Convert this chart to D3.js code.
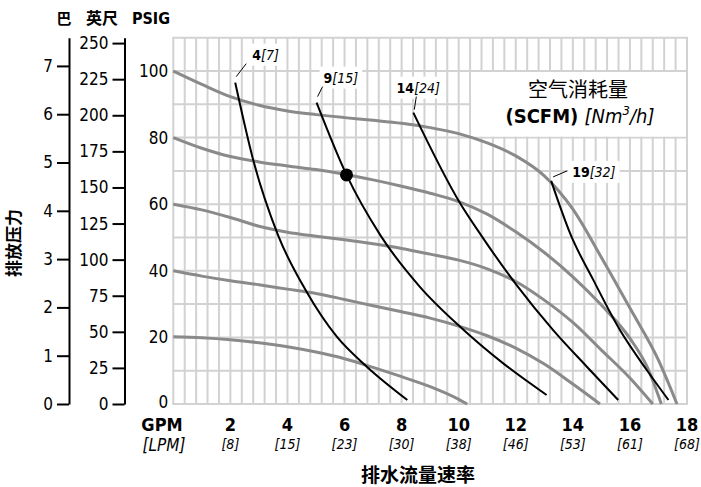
<!DOCTYPE html>
<html>
<head>
<meta charset="utf-8">
<script src="https://cdn.jsdelivr.net/npm/d3@7"></script>
<style>
  body { margin: 0; background: #fff; }
  svg { display: block; }
  text { font-family: "Liberation Sans Narrow", "DejaVu Sans Condensed", "Roboto", sans-serif; fill: #000; }
  .cjk { font-family: "Noto Sans CJK SC", sans-serif; }
</style>
</head>
<body>
<script>
// data

// gray curves: water flow (gpm) vs discharge pressure (psig) at given air inlet pressure
var airPressures = [100, 80, 60, 40, 20];
var curve100 = [[0,100],[1,96],[2,92.3],[3,89.7],[4,88],[5,86.9],[6,86],[7,85.2],[8,84.3],[9,83],[10,81.2],[11,78.4],[12,74.5],[13,68.5],[14,58.5],[15,44],[16,28.8],[17,13.2],[17.65,0]];
var curve80  = [[0,80],[1,76.8],[2,74.3],[3,72.7],[4,71.5],[5,70.4],[6,69],[7,67.3],[8,65.4],[9,63.3],[10,60.8],[11,57],[12,51.7],[13,45.5],[14,38.2],[15,29.7],[16,19.7],[16.6,11.2],[17.1,0]];
var curve60  = [[0,60],[1,58.3],[2,56],[3,53.4],[4,51.6],[5,50.4],[6,49.3],[7,48.1],[8,46.7],[9,45],[10,43.2],[11,40.6],[12,36.8],[13,31.2],[14,24.5],[15,16.2],[16,7.8],[16.8,0]];
var curve40  = [[0,40],[1,38.4],[2,37],[3,35.8],[4,34.5],[5,33.2],[6,31.4],[7,29.5],[8,27.7],[9,25.8],[10,23.4],[11,20.5],[12,16.8],[13,12],[14,6],[14.95,0]];
var curve20  = [[0,20.2],[1,19.9],[2,19.3],[3,18.4],[4,17.2],[5,15.6],[6,13.6],[7,11],[8,8.2],[9,5.2],[10,1.4],[10.3,0]];
var grayCurves = [curve100, curve80, curve60, curve40, curve20];

// black curves: air consumption (scfm [nm3/h])
var scfm = [4, 9, 14, 19];
var nm3h = [7, 15, 24, 32];
var air4  = [[2.17,96.5],[2.8,73.3],[3.68,50.5],[4.67,33.7],[5.73,20.2],[6.78,11.2],[8.2,1.2]];
var air9  = [[5.02,90.5],[6.07,68.8],[7.27,50.5],[8.64,35.2],[10.05,23.2],[11.56,12.2],[13.08,2.7]];
var air14 = [[8.41,87.5],[10.05,60.3],[10.8,50.5],[12.03,35.7],[13.31,22.2],[14.49,11.2],[15.59,1.2]];
var air19 = [[13.24,67],[13.93,50.7],[14.72,37.2],[15.65,22.2],[16.59,10.2],[17.35,1.2]];
var airCurves = [air4, air9, air14, air19];

// example operating point
var opPoint = [6.07, 68.8];

// tick labels
var gpmTicks = [2, 4, 6, 8, 10, 12, 14, 16, 18];
var lpmTicks = [8, 15, 23, 30, 38, 46, 53, 61, 68];
var psiTicks = [0, 20, 40, 60, 80, 100];
var barTicks = [0, 1, 2, 3, 4, 5, 6, 7];
var ftTicks  = [0, 25, 50, 75, 100, 125, 150, 175, 200, 225, 250];

/////////// SCALES //////////////

var psiMax = 110;
var x = d3.scaleLinear().domain([0, 18]).range([173.3, 687]);
var y = d3.scaleLinear().domain([0, psiMax]).range([404, 37.7]);
// bar and feet of water share the same pixel range
var yBar = d3.scaleLinear().domain([0, psiMax / 14.5038]).range(y.range());
var yFt  = d3.scaleLinear().domain([0, psiMax * 2.3067]).range(y.range());

var svg = d3.select('body')
  .append('svg')
    .attr('width', 701)
    .attr('height', 487);

/////////// GRID //////////////

var grid = svg.append('g')
    .attr('stroke', '#d2d2d2')
    .attr('stroke-width', 2);

grid.selectAll('line.v')
  .data(d3.range(0, 45.5).map(function(i) { return i * 0.4; }))
  .enter().append('line')
    .attr('class', 'v')
    .attr('x1', function(d) { return x(d); })
    .attr('x2', function(d) { return x(d); })
    .attr('y1', y(0))
    .attr('y2', y(psiMax));

grid.selectAll('line.h')
  .data(d3.range(0, 12).map(function(i) { return i * 10; }))
  .enter().append('line')
    .attr('class', 'h')
    .attr('x1', x(0) - 1)
    .attr('x2', x(18) + 1)
    .attr('y1', function(d) { return y(d); })
    .attr('y2', function(d) { return y(d); });

// legend box blanks the grid between 80 and 100 psi
svg.append('rect')
    .attr('x', x(10.4) + 1)
    .attr('y', y(100) + 1)
    .attr('width', x(18) - x(10.4) - 2)
    .attr('height', y(80) - y(100) - 2)
    .attr('fill', '#fff');

var legend = svg.append('g');
legend.append('text')
    .attr('class', 'cjk')
    .attr('x', 578)
    .attr('y', 97)
    .attr('text-anchor', 'middle')
    .style('font-size', '20px')
    .text('空气消耗量');
var lt = legend.append('text')
    .attr('x', 580)
    .attr('y', 123)
    .attr('text-anchor', 'middle')
    .style('font-size', '20px');
lt.append('tspan').style('font-weight', 'bold').text('(SCFM) ');
lt.append('tspan').style('font-style', 'italic').text('[Nm');
lt.append('tspan').style('font-style', 'italic').style('font-size', '13px').attr('dy', -8).text('3');
lt.append('tspan').style('font-style', 'italic').attr('dy', 8).text('/h]');

/////////// CURVES //////////////

var line = d3.line()
    .x(function(d) { return x(d[0]); })
    .y(function(d) { return y(d[1]); })
    .curve(d3.curveMonotoneX);

svg.append('g').selectAll('path')
  .data(grayCurves)
  .enter().append('path')
    .attr('d', line)
    .attr('fill', 'none')
    .attr('stroke', '#8a8a8c')
    .attr('stroke-width', 3);

svg.append('g').selectAll('path')
  .data(airCurves)
  .enter().append('path')
    .attr('d', line)
    .attr('fill', 'none')
    .attr('stroke', '#000')
    .attr('stroke-width', 2);

svg.append('circle')
    .attr('cx', x(opPoint[0]))
    .attr('cy', y(opPoint[1]))
    .attr('r', 6.5)
    .attr('fill', '#000');

// air consumption labels, placed off the top of each black curve
// [leader dx1, dy1, dx2, dy2, text x offset, text baseline offset, anchor]
var labelPos = [
  [1, -6, 11, -19, 17, -23, 'start'],
  [1, -6, 6, -16, 7, -20, 'start'],
  [1, -3, 3, -16, 5, -20, 'middle'],
  [2, -4, 16, -10, 21, -4, 'start']
];

var labels = svg.append('g').selectAll('g')
  .data(scfm)
  .enter().append('g');

labels.each(function(d, i) {
  var g = d3.select(this);
  var p0 = airCurves[i][0];
  var px = x(p0[0]), py = y(p0[1]);
  var lp = labelPos[i];
  var t = g.append('text')
      .attr('x', px + lp[4])
      .attr('y', py + lp[5])
      .attr('text-anchor', lp[6])
      .style('font-size', '14px');
  t.append('tspan').style('font-weight', 'bold').text(d);
  t.append('tspan').style('font-style', 'italic').text('[' + nm3h[i] + ']');
  var bb = t.node().getBBox();
  g.insert('rect', 'text')
      .attr('x', bb.x - 4)
      .attr('y', bb.y - 3)
      .attr('width', bb.width + 8)
      .attr('height', bb.height + 6)
      .attr('fill', '#fff');
  g.append('line')
      .attr('x1', px + lp[0]).attr('y1', py + lp[1])
      .attr('x2', px + lp[2]).attr('y2', py + lp[3])
      .attr('stroke', '#000')
      .attr('stroke-width', 1);
});

/////////// AXES //////////////

// psig labels next to the plot
var psiAxis = svg.append('g')
    .attr('transform', 'translate(' + (x(0) - 5) + ',0)')
    .call(d3.axisLeft(y).tickValues(psiTicks).tickSize(0).tickPadding(0));
psiAxis.select('.domain').remove();
psiAxis.selectAll('text').style('font-size', '17px').attr('font-family', null);
psiAxis.selectAll('.tick').filter(function(d) { return d === 0; })
    .select('text').attr('dy', '0.2em');

// feet of water
var ftAxis = svg.append('g')
    .attr('transform', 'translate(124.5,0)')
    .call(d3.axisLeft(yFt).tickValues(ftTicks).tickSize(12).tickSizeOuter(0).tickPadding(4));
// bar
var barAxis = svg.append('g')
    .attr('transform', 'translate(69,0)')
    .call(d3.axisLeft(yBar).tickValues(barTicks).tickSize(12).tickSizeOuter(0).tickPadding(4));

[ftAxis, barAxis].forEach(function(a) {
  a.select('.domain').attr('stroke-width', 2);
  a.selectAll('.tick line').attr('stroke-width', 2);
  a.selectAll('text').style('font-size', '17px').attr('font-family', null);
});

// unit headers
svg.append('text').attr('class', 'cjk').attr('x', 64).attr('y', 24).attr('text-anchor', 'middle')
    .style('font-size', '15px').style('font-weight', 'bold').text('巴');
svg.append('text').attr('class', 'cjk').attr('x', 102).attr('y', 24).attr('text-anchor', 'middle')
    .style('font-size', '16px').style('font-weight', 'bold').text('英尺');
svg.append('text').attr('x', 151).attr('y', 24).attr('text-anchor', 'middle')
    .style('font-size', '16px').style('font-weight', 'bold').text('PSIG');

// x axis labels
var xl = svg.append('g');
xl.selectAll('text.gpm')
  .data(gpmTicks)
  .enter().append('text')
    .attr('class', 'gpm')
    .attr('x', function(d) { return x(d); })
    .attr('y', 431)
    .attr('text-anchor', 'middle')
    .style('font-size', '18px')
    .style('font-weight', 'bold')
    .text(function(d) { return d; });
xl.selectAll('text.lpm')
  .data(lpmTicks)
  .enter().append('text')
    .attr('class', 'lpm')
    .attr('x', function(d, i) { return x(gpmTicks[i]); })
    .attr('y', 449)
    .attr('text-anchor', 'middle')
    .style('font-size', '14px')
    .style('font-style', 'italic')
    .text(function(d) { return '[' + d + ']'; });
xl.append('text').attr('x', 162).attr('y', 431).attr('text-anchor', 'middle')
    .style('font-size', '18px').style('font-weight', 'bold').text('GPM');
xl.append('text').attr('x', 164).attr('y', 451).attr('text-anchor', 'middle')
    .style('font-size', '17px').style('font-style', 'italic').text('[LPM]');

// axis titles
svg.append('text').attr('class', 'cjk')
    .attr('transform', 'translate(20,243) rotate(-90)')
    .attr('text-anchor', 'middle')
    .style('font-size', '17px').style('font-weight', 'bold')
    .text('排放压力');
svg.append('text').attr('class', 'cjk')
    .attr('x', 418).attr('y', 482)
    .attr('text-anchor', 'middle')
    .style('font-size', '19px').style('font-weight', 'bold')
    .text('排水流量速率');
</script>
</body>
</html>
